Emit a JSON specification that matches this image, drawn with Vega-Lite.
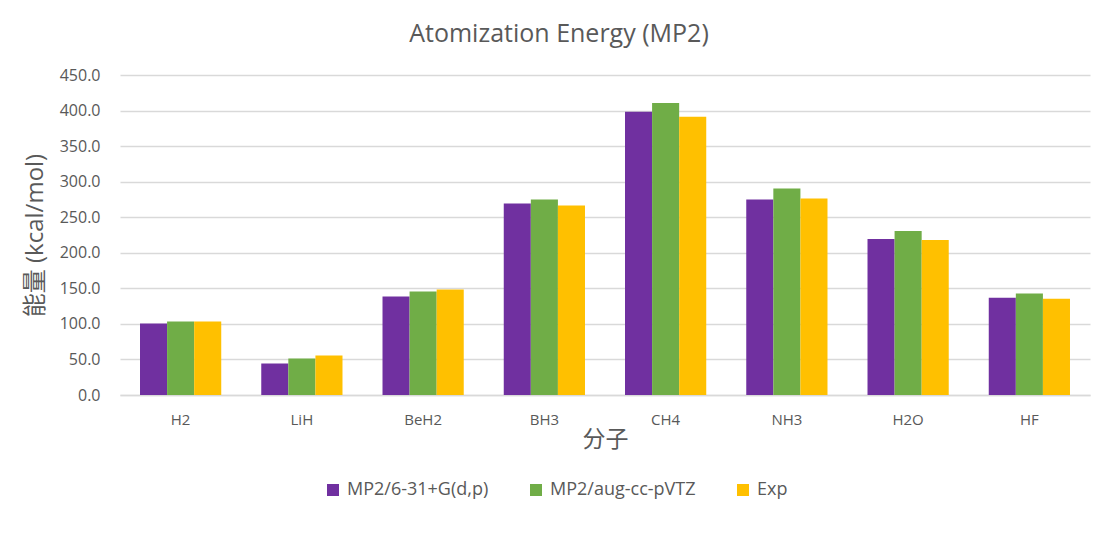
{
  "$schema": "https://vega.github.io/schema/vega-lite/v6.json",
  "autosize": {"type": "none"},
  "width": 970,
  "height": 320,
  "padding": {"left": 120, "top": 75, "right": 29, "bottom": 144},
  "background": "white",
  "title": {
    "text": "Atomization Energy (MP2)",
    "font": "Open Sans",
    "fontSize": 25,
    "fontWeight": "normal",
    "color": "#595959",
    "anchor": "middle",
    "dx": -46,
    "offset": 20
  },
  "data": {
    "values": [
      {"molecule": "H2", "method": "MP2/6-31+G(d,p)", "value": 100.5},
      {"molecule": "H2", "method": "MP2/aug-cc-pVTZ", "value": 103.4},
      {"molecule": "H2", "method": "Exp", "value": 103.3},
      {"molecule": "LiH", "method": "MP2/6-31+G(d,p)", "value": 44.3},
      {"molecule": "LiH", "method": "MP2/aug-cc-pVTZ", "value": 51.3},
      {"molecule": "LiH", "method": "Exp", "value": 55.5},
      {"molecule": "BeH2", "method": "MP2/6-31+G(d,p)", "value": 138.5},
      {"molecule": "BeH2", "method": "MP2/aug-cc-pVTZ", "value": 145.5},
      {"molecule": "BeH2", "method": "Exp", "value": 148.4},
      {"molecule": "BH3", "method": "MP2/6-31+G(d,p)", "value": 269.2},
      {"molecule": "BH3", "method": "MP2/aug-cc-pVTZ", "value": 274.9},
      {"molecule": "BH3", "method": "Exp", "value": 266.4},
      {"molecule": "CH4", "method": "MP2/6-31+G(d,p)", "value": 398.2},
      {"molecule": "CH4", "method": "MP2/aug-cc-pVTZ", "value": 410.8},
      {"molecule": "CH4", "method": "Exp", "value": 391.2},
      {"molecule": "NH3", "method": "MP2/6-31+G(d,p)", "value": 274.9},
      {"molecule": "NH3", "method": "MP2/aug-cc-pVTZ", "value": 290.3},
      {"molecule": "NH3", "method": "Exp", "value": 276.3},
      {"molecule": "H2O", "method": "MP2/6-31+G(d,p)", "value": 219.2},
      {"molecule": "H2O", "method": "MP2/aug-cc-pVTZ", "value": 230.5},
      {"molecule": "H2O", "method": "Exp", "value": 217.8},
      {"molecule": "HF", "method": "MP2/6-31+G(d,p)", "value": 136.9},
      {"molecule": "HF", "method": "MP2/aug-cc-pVTZ", "value": 142.6},
      {"molecule": "HF", "method": "Exp", "value": 135.5}
    ]
  },
  "mark": {"type": "bar"},
  "encoding": {
    "x": {
      "field": "molecule",
      "type": "nominal",
      "sort": ["H2", "LiH", "BeH2", "BH3", "CH4", "NH3", "H2O", "HF"],
      "scale": {"paddingInner": 0.33, "paddingOuter": 0.165},
      "axis": {
        "title": "分子",
        "titleFont": "Noto Sans CJK SC",
        "titleFontSize": 23,
        "titleFontWeight": "normal",
        "titleColor": "#595959",
        "titlePadding": 1,
        "labelFont": "Open Sans",
        "labelFontSize": 15,
        "labelColor": "#595959",
        "labelAngle": 0,
        "labelPadding": 17,
        "ticks": false,
        "domainColor": "#d9d9d9",
        "domainWidth": 1.5
      }
    },
    "xOffset": {
      "field": "method",
      "type": "nominal",
      "sort": ["MP2/6-31+G(d,p)", "MP2/aug-cc-pVTZ", "Exp"]
    },
    "y": {
      "field": "value",
      "type": "quantitative",
      "scale": {"domain": [0, 450], "nice": false},
      "axis": {
        "title": "能量 (kcal/mol)",
        "titleFont": "Open Sans, Noto Sans CJK SC",
        "titleFontSize": 24,
        "titleFontWeight": "normal",
        "titleColor": "#595959",
        "titlePadding": 12,
        "labelFont": "Open Sans",
        "labelFontSize": 16,
        "labelColor": "#595959",
        "labelPadding": 20,
        "format": ".1f",
        "values": [0, 50, 100, 150, 200, 250, 300, 350, 400, 450],
        "ticks": false,
        "domain": false,
        "gridColor": "#d9d9d9",
        "gridWidth": 1.5
      }
    },
    "color": {
      "field": "method",
      "type": "nominal",
      "sort": ["MP2/6-31+G(d,p)", "MP2/aug-cc-pVTZ", "Exp"],
      "scale": {
        "domain": ["MP2/6-31+G(d,p)", "MP2/aug-cc-pVTZ", "Exp"],
        "range": ["#7030A0", "#70AD47", "#FFC000"]
      },
      "legend": {
        "title": null,
        "orient": "none",
        "direction": "horizontal",
        "legendX": 204,
        "legendY": 406,
        "symbolType": "square",
        "symbolSize": 144,
        "symbolStrokeWidth": 0,
        "symbolOpacity": 1,
        "labelFont": "Open Sans",
        "labelFontSize": 18,
        "labelColor": "#595959",
        "labelOffset": 5,
        "columnPadding": 38
      }
    }
  },
  "config": {
    "view": {"stroke": null}
  }
}
